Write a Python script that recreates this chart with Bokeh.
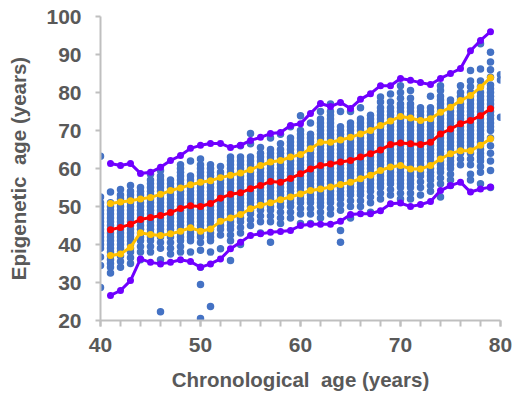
from bokeh.plotting import figure
from bokeh.models import Range1d, SingleIntervalTicker, ColumnDataSource
from bokeh.embed import file_html
from bokeh.resources import INLINE

# ---------------- data ----------------
scatter_ages = list(range(40, 81))
col40 = [28.7, 34.5, 36.7, 39, 40, 41, 42, 43, 44, 45, 46, 47, 48, 49, 50, 51, 52.5, 63.2]
col41 = [32.5, 34, 35, 36, 37, 38, 39, 40, 41, 42, 43, 44, 45, 46, 47, 48, 49, 50, 51, 53.8]
col42 = [34, 35.5, 37, 38, 39, 40, 41, 42, 43, 44, 45, 46, 47, 48, 49, 50, 51, 52, 53, 54.5]
col43 = [35, 36.5, 38, 39, 40, 41, 42, 43, 44, 45, 46, 47, 48, 49, 50, 51, 52, 53, 54, 55.5]
col44 = [36, 38, 39.5, 41, 42, 43, 44, 45, 46, 47, 48, 49, 50, 51, 52, 53, 54, 55]
col45 = [38, 39.5, 41, 42, 43, 44, 45, 46, 47, 48, 49, 50, 51, 52, 53, 54, 55, 56, 57, 58.5]
col46 = [22.3, 36, 39, 40.5, 42, 43, 44, 45, 46, 47, 48, 49, 50, 51, 52, 53, 54, 55, 56, 57, 58, 59.5]
col47 = [37.5, 39, 40.5, 42, 43, 44, 45, 46, 47, 48, 49, 50, 51, 52, 53, 54, 55, 56, 57]
col48 = [38, 39.5, 41, 42, 43, 44, 45, 46, 47, 48, 49, 50, 51, 52, 53, 54, 55, 56, 57, 58, 59, 60, 61]
col49 = [38, 41, 42, 43, 44, 45, 46, 47, 48, 49, 50, 51, 52, 53, 54, 55, 56, 57, 58, 62]
col50 = [20.5, 29.5, 34, 38.5, 40.5, 42, 43, 44, 45, 46, 47, 48, 49, 50, 51, 52, 53, 54, 55, 56, 57, 58, 59, 60, 61, 62.5]
col51 = [23.7, 38, 41, 42, 43, 44, 45, 46, 47, 48, 49, 50, 51, 52, 53, 54, 55, 56, 57, 58, 59, 60, 61]
col52 = [38.9, 42.5, 44, 45, 46, 47, 48, 49, 50, 51, 52, 53, 54, 55, 56, 57, 58, 59, 60.5]
col53 = [35.8, 41, 42.5, 44, 45, 46, 47, 48, 49, 50, 51, 52, 53, 54, 55, 56, 57, 58, 59, 60, 61, 62, 63]
col54 = [40, 43, 44.5, 46, 47, 48, 49, 50, 51, 52, 53, 54, 55, 56, 57, 58, 59, 60, 61, 62, 63, 66]
col55 = [45, 46.5, 48, 49, 50, 51, 52, 53, 54, 55, 56, 57, 58, 59, 60, 61, 62, 63, 66.5, 69.2]
col56 = [43, 46, 47.5, 49, 50, 51, 52, 53, 54, 55, 56, 57, 58, 59, 60, 61, 62, 63, 64, 65.5]
col57 = [40.6, 46, 47.5, 49, 50, 51, 52, 53, 54, 55, 56, 57, 58, 59, 60, 61, 62, 63, 64, 65, 68]
col58 = [45.5, 47, 48.5, 50, 51, 52, 53, 54, 55, 56, 57, 58, 59, 60, 61, 62, 63, 64, 65, 66.5, 69]
col59 = [47, 48.5, 50, 51, 52, 53, 54, 55, 56, 57, 58, 59, 60, 61, 62, 63, 64, 65, 66, 67, 68, 71]
col60 = [45.5, 48, 49.5, 51, 52, 53, 54, 55, 56, 57, 58, 59, 60, 61, 62, 63, 64, 65, 66, 67, 68, 69, 70, 73.9]
col61 = [45.5, 48, 49.5, 51, 52, 53, 54, 55, 56, 57, 58, 59, 60, 61, 62, 63, 64, 65, 66, 67, 68, 69, 72]
col62 = [47, 48.5, 50, 51, 52, 53, 54, 55, 56, 57, 58, 59, 60, 61, 62, 63, 64, 65, 66, 67, 68, 69, 70, 71, 72, 73, 75]
col63 = [48, 49.5, 51, 52, 53, 54, 55, 56, 57, 58, 59, 60, 61, 62, 63, 64, 65, 66, 67, 68, 69, 70, 71, 72, 73, 74, 75, 77]
col64 = [40.6, 43.7, 49, 50.5, 52, 53, 54, 55, 56, 57, 58, 59, 60, 61, 62, 63, 64, 65, 66, 67, 68, 69, 70, 71, 75]
col65 = [47, 50, 51.5, 53, 54, 55, 56, 57, 58, 59, 60, 61, 62, 63, 64, 65, 66, 67, 68, 69, 70, 71, 72, 75]
col66 = [50, 51.5, 53, 54, 55, 56, 57, 58, 59, 60, 61, 62, 63, 64, 65, 66, 67, 68, 69, 70, 71, 72, 73, 76]
col67 = [48.5, 51, 52.5, 54, 55, 56, 57, 58, 59, 60, 61, 62, 63, 64, 65, 66, 67, 68, 69, 70, 71, 72, 73, 74]
col68 = [52, 53.5, 55, 56, 57, 58, 59, 60, 61, 62, 63, 64, 65, 66, 67, 68, 69, 70, 71, 72, 73, 74, 75, 76, 77.5, 78.8]
col69 = [53, 54.5, 56, 57, 58, 59, 60, 61, 62, 63, 64, 65, 66, 67, 68, 69, 70, 71, 72, 73, 74, 75, 76, 77.5, 79.6]
col70 = [52, 53.5, 55, 56, 57, 58, 59, 60, 61, 62, 63, 64, 65, 66, 67, 68, 69, 70, 71, 72, 73, 74, 75, 76, 77, 78.5, 80, 81.8]
col71 = [52, 53.5, 55, 56, 57, 58, 59, 60, 61, 62, 63, 64, 65, 66, 67, 68, 69, 70, 71, 72, 73, 74, 75, 76, 77, 78.5, 80.5]
col72 = [53, 55, 56.5, 58, 59, 60, 61, 62, 63, 64, 65, 66, 67, 68, 69, 70, 71, 72, 73, 74, 75, 76]
col73 = [54, 55.5, 57, 58, 59, 60, 61, 62, 63, 64, 65, 66, 67, 68, 69, 70, 71, 72, 73, 74, 75, 76, 79]
col74 = [52.5, 56, 57.5, 59, 60, 61, 62, 63, 64, 65, 66, 67, 68, 69, 70, 71, 72, 73, 74, 75, 76, 77, 78, 79, 80.5, 81.8]
col75 = [55.5, 57, 58.5, 60, 61, 62, 63, 64, 65, 66, 67, 68, 69, 70, 71, 72, 73, 74, 75, 76, 77, 78]
col76 = [61, 62.5, 64, 65, 66, 67, 68, 69, 70, 71, 72, 73, 74, 75, 76, 77, 78, 79, 80, 81.8]
col77 = [57, 58.5, 61, 62.5, 64, 65, 66, 67, 68, 69, 70, 71, 72, 73, 74, 75, 76, 77, 78, 79, 80, 81.5, 83, 85.8]
col78 = [56, 59, 60.5, 62, 63, 64, 65, 66, 67, 68, 69, 70, 71, 72, 73, 74, 75, 76, 77, 78, 79, 80, 81.5, 83, 86.2, 92.8]
col79 = [55, 59.5, 62, 64, 66, 68, 70, 71, 72, 73, 74, 75, 76, 77, 78, 79, 80, 81, 82, 84, 86, 88, 90.6]
col80 = [73.5, 83.3, 84.7]

scatter_columns = [col40, col41, col42, col43, col44, col45, col46, col47, col48, col49,
                   col50, col51, col52, col53, col54, col55, col56, col57, col58, col59,
                   col60, col61, col62, col63, col64, col65, col66, col67, col68, col69,
                   col70, col71, col72, col73, col74, col75, col76, col77, col78, col79, col80]

line_ages = list(range(41, 80))
mean_line = [43.9, 44.5, 45.3, 46.6, 47.1, 47.6, 48.4, 49.5, 50.2, 50.0, 50.8, 52.2, 53.2, 53.6, 54.7,
             55.5, 56.6, 56.4, 57.4, 58.6, 59.9, 60.8, 61.2, 61.7, 62.1, 63.0, 63.9, 64.9, 66.3, 66.7,
             66.5, 66.3, 66.9, 69.1, 70.4, 71.8, 72.6, 73.9, 75.7]
upper_sd = [50.8, 51.2, 51.5, 52.0, 52.4, 53.2, 54.2, 54.9, 55.7, 56.4, 56.8, 57.6, 58.2, 58.8, 59.7,
            60.8, 61.7, 62.1, 63.0, 63.7, 65.2, 66.9, 66.9, 67.5, 68.2, 69.1, 70.0, 71.3, 72.5, 73.7,
            73.3, 72.6, 73.1, 74.8, 76.1, 77.9, 79.2, 81.4, 83.9]
lower_sd = [37.1, 37.5, 39.3, 43.1, 42.6, 42.4, 42.8, 43.5, 44.4, 43.5, 44.1, 46.1, 47.0, 47.9, 49.4,
            50.3, 51.0, 51.8, 52.5, 53.3, 54.2, 54.6, 55.1, 55.8, 56.4, 57.3, 58.2, 59.5, 60.4, 60.8,
            59.9, 59.9, 60.8, 62.5, 63.9, 64.7, 64.7, 66.1, 67.8]
upper_env = [61.3, 60.8, 61.3, 58.7, 59.0, 60.3, 62.1, 63.4, 65.3, 66.1, 66.6, 66.6, 65.5, 66.1, 67.4,
             68.2, 69.2, 69.5, 71.3, 71.8, 74.5, 77.1, 76.3, 77.4, 75.8, 78.2, 79.7, 81.8, 81.8, 83.7,
             83.2, 82.6, 82.1, 83.7, 85.0, 86.3, 91.0, 93.7, 96.0]
lower_env = [26.6, 27.9, 30.5, 36.2, 35.3, 34.9, 35.3, 36.0, 35.5, 34.0, 34.9, 36.2, 38.9, 40.6, 42.4,
             42.8, 43.2, 43.4, 43.7, 45.0, 45.3, 45.3, 45.3, 46.1, 47.9, 48.1, 48.1, 48.9, 50.7, 50.9,
             50.0, 50.5, 51.3, 54.2, 55.5, 56.4, 53.8, 54.6, 55.1]

x_title = "Chronological\u00a0 age (years)"
y_title = "Epigenetic\u00a0 age (years)"

# ---------------- figure ----------------
FONT = "Liberation Sans"
GREY = "#595959"

p = figure(width=512, height=394, x_range=Range1d(40, 80), y_range=Range1d(20, 100),
           output_backend="svg", toolbar_location=None,
           min_border_left=100, min_border_right=12, min_border_top=16, min_border_bottom=74)
p.outline_line_color = None
p.xgrid.visible = False
p.ygrid.visible = False
p.background_fill_color = "white"
p.border_fill_color = "white"

xs, ys = [], []
for a, col in zip(scatter_ages, scatter_columns):
    xs += [a] * len(col)
    ys += col
p.scatter(xs, ys, size=7.5, color="#4472C4", line_color=None)

series = [(upper_env, "#7000FF"), (lower_env, "#7000FF"),
          (upper_sd, "#FFC000"), (lower_sd, "#FFC000"), (mean_line, "#FF0000")]
for vals, c in series:
    src = ColumnDataSource(dict(x=line_ages, y=vals))
    p.line("x", "y", source=src, line_color=c, line_width=3)
    p.scatter("x", "y", source=src, size=7, color=c, line_color=None)

for ax in (p.xaxis[0], p.yaxis[0]):
    ax.axis_line_color = "#BFBFBF"
    ax.axis_line_width = 2
    ax.major_tick_line_color = "#BFBFBF"
    ax.minor_tick_line_color = "#BFBFBF"
    ax.major_tick_line_width = 2
    ax.minor_tick_line_width = 2
    ax.major_tick_in = 0
    ax.minor_tick_in = 0
    ax.major_label_text_font = FONT
    ax.major_label_text_font_style = "bold"
    ax.major_label_text_font_size = "21px"
    ax.major_label_text_color = GREY
    ax.axis_label_text_font = FONT
    ax.axis_label_text_font_style = "bold"
    ax.axis_label_text_font_size = "20.5px"
    ax.axis_label_text_color = GREY

p.xaxis.ticker = SingleIntervalTicker(interval=10, num_minor_ticks=5)
p.xaxis.major_tick_out = 6
p.xaxis.minor_tick_out = 6
p.xaxis.major_label_standoff = 11
p.xaxis.axis_label = x_title
p.xaxis.axis_label_standoff = 13

p.yaxis.ticker = SingleIntervalTicker(interval=10, num_minor_ticks=0)
p.yaxis.major_tick_out = 5
p.yaxis.minor_tick_out = 0
p.yaxis.major_label_standoff = 14
p.yaxis.axis_label = y_title
p.yaxis.axis_label_standoff = 13

open("out.html", "w").write(file_html(p, INLINE))
